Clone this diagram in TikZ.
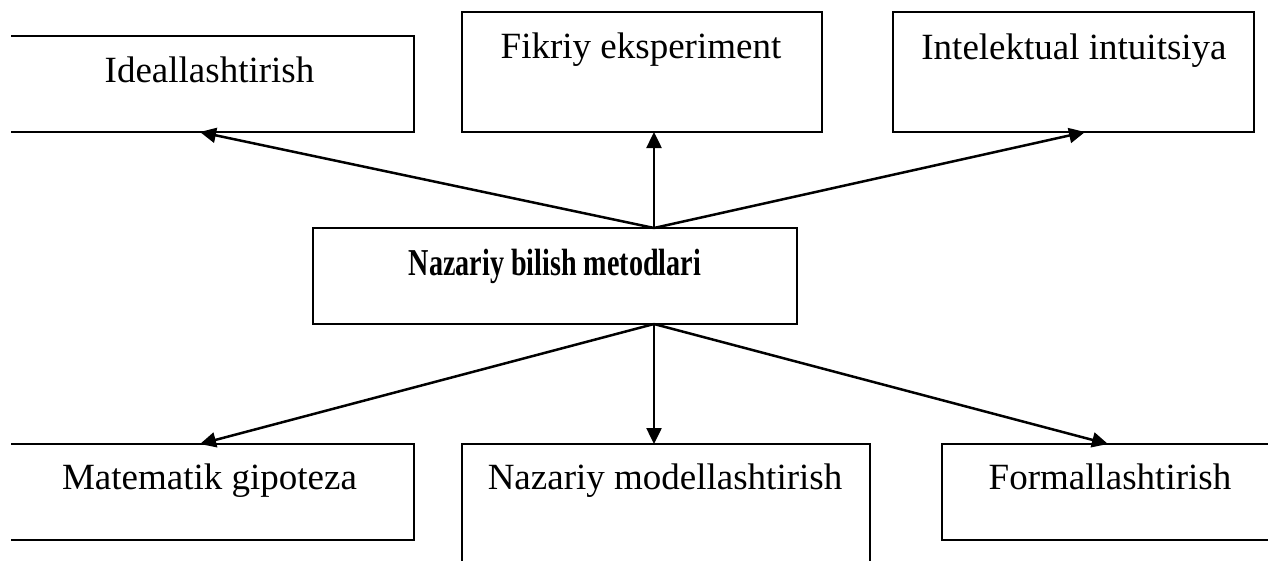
\documentclass[tikz,border=0pt]{standalone}
\usepackage{fontspec}
\setmainfont{Liberation Serif}
\usetikzlibrary{arrows.meta}
\begin{document}
\begin{tikzpicture}[x=1pt,y=-1pt,
  line width=2.5pt,
  boxline/.style={draw=black,line width=2.5pt},
  lbl/.style={anchor=base,inner sep=0pt,font=\fontsize{37}{44}\selectfont},
  arr/.style={line width=2.5pt,-{Triangle[length=16pt,width=15pt]}}]
\useasboundingbox (0,0) rectangle (1268,560);
% box corners
\coordinate (b1tl) at (11,36);  \coordinate (b1br) at (414,132);
\coordinate (b2tl) at (462,12); \coordinate (b2br) at (822,132);
\coordinate (b3tl) at (893,12); \coordinate (b3br) at (1254,132);
\coordinate (ctl) at (313,228); \coordinate (cbr) at (797,324);
\coordinate (b4tl) at (11,444); \coordinate (b4br) at (414,540);
\coordinate (b5tl) at (462,444); \coordinate (b5br) at (870,580);
\coordinate (b6tl) at (942,444); \coordinate (b6br) at (1290,540);
% boxes
\draw[boxline] (b1tl) -- (b1tl -| b1br) -- (b1br) -- (b1br -| b1tl);
\draw[boxline] (b2tl) rectangle (b2br);
\draw[boxline] (b3tl) rectangle (b3br);
\draw[boxline] (ctl) rectangle (cbr);
\draw[boxline] (b4tl) -- (b4tl -| b4br) -- (b4br) -- (b4br -| b4tl);
\draw[boxline] (b5tl) rectangle (b5br);
\draw[boxline] (b6tl) rectangle (b6br);
% texts
\node[lbl] (ideal) at (209.5,82) {Ideallashtirish};
\node[lbl] (fikr) at (641,58) {Fikriy eksperiment};
\node[lbl] (intel) at (1074,59) {Intelektual intuitsiya};
\node[lbl] (main) at (555,275) {\scalebox{0.74}[1]{\fontsize{38}{44}\selectfont\bfseries Nazariy bilish metodlari}};
\node[lbl] (mat) at (209.5,489) {Matematik gipoteza};
\node[lbl] (model) at (665,489) {Nazariy modellashtirish};
\node[lbl] (form) at (1110,489) {Formallashtirish};
% connector endpoints
\coordinate (ctop) at (654,228);
\coordinate (cbot) at (654,324);
\coordinate (t1) at (200,132);
\coordinate (t2) at (654,132);
\coordinate (t3) at (1085,132);
\coordinate (t4) at (200,444);
\coordinate (t5) at (654,444);
\coordinate (t6) at (1108,444);
\draw[arr] (ctop) -- (t1);
\draw[arr] (ctop) -- (t2);
\draw[arr] (ctop) -- (t3);
\draw[arr] (cbot) -- (t4);
\draw[arr] (cbot) -- (t5);
\draw[arr] (cbot) -- (t6);
\end{tikzpicture}
\end{document}
